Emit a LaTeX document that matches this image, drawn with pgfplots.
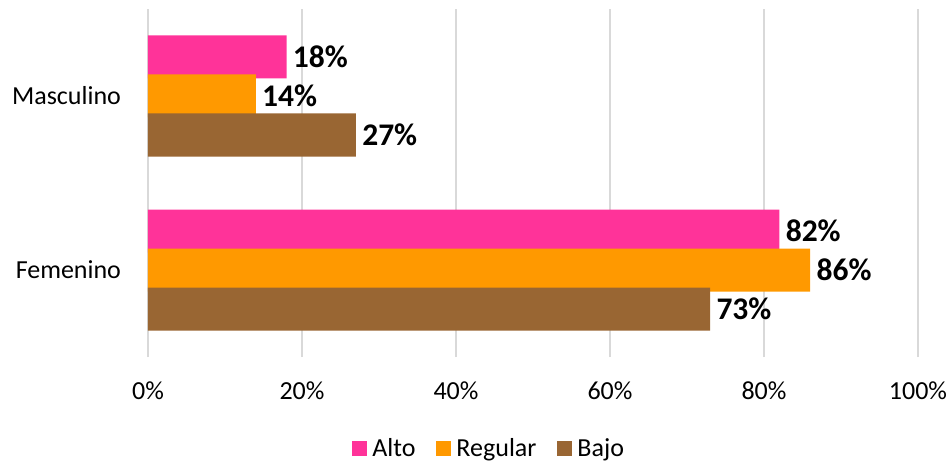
\documentclass[border=0pt]{standalone}
\usepackage{pgfplots}
\pgfplotsset{compat=1.18}
\usepackage{fontspec}
\setmainfont{Carlito}
\definecolor{alto}{HTML}{FF3399}
\definecolor{regular}{HTML}{FF9900}
\definecolor{bajo}{HTML}{996633}
\definecolor{gridgray}{HTML}{D9D9D9}

\begin{document}
\begin{tikzpicture}
\begin{axis}[
  scale only axis, width=385bp, height=174bp,
  xmin=0, xmax=100, ymin=-0.5, ymax=1.5,
  xbar, bar width=21.5bp,
  axis line style={draw=none},
  major tick length=0pt,
  xtick={0,20,...,100},
  xticklabels={0\%,20\%,40\%,60\%,80\%,100\%},
  ytick={0,1}, yticklabels={Femenino,Masculino},
  xmajorgrids, major grid style={gridgray, line width=0.75bp},
  /pgf/number format/assume math mode=true,
  tick label style={font=\fontsize{13bp}{15bp}\selectfont},
  xticklabel style={yshift=-9bp},
  yticklabel style={xshift=-10bp},
  point meta=x,
  nodes near coords={\pgfmathprintnumber{\pgfplotspointmeta}\%},
  nodes near coords style={font=\fontsize{15.75bp}{18bp}\selectfont\bfseries, black, anchor=west, inner sep=3bp},
  legend style={at={(0.445,-0.264)}, anchor=center, draw=none, legend columns=-1,
    font=\fontsize{13bp}{15bp}\selectfont, nodes={inner sep=2.5bp},
    /tikz/every even column/.append style={column sep=8bp}},
  legend image code/.code={\path[#1,draw=none] (0bp,-3.75bp) rectangle (7.5bp,3.75bp);},
  clip=false,
]
\addplot[fill=alto, draw=none, bar shift=19.5bp] coordinates {(82,0) (18,1)};
\addplot[fill=regular, draw=none, bar shift=0bp] coordinates {(86,0) (14,1)};
\addplot[fill=bajo, draw=none, bar shift=-19.5bp] coordinates {(73,0) (27,1)};
\legend{Alto,Regular,Bajo}
\path (rel axis cs:0,0) coordinate (O);
\path (rel axis cs:1,1) coordinate (T);
\end{axis}
\path (O) ++(-74bp,-54bp) coordinate (BL);
\path (T) ++(16.5bp,4.5bp) coordinate (TR);
\pgfresetboundingbox
\path (BL) rectangle (TR);
\end{tikzpicture}
\end{document}
